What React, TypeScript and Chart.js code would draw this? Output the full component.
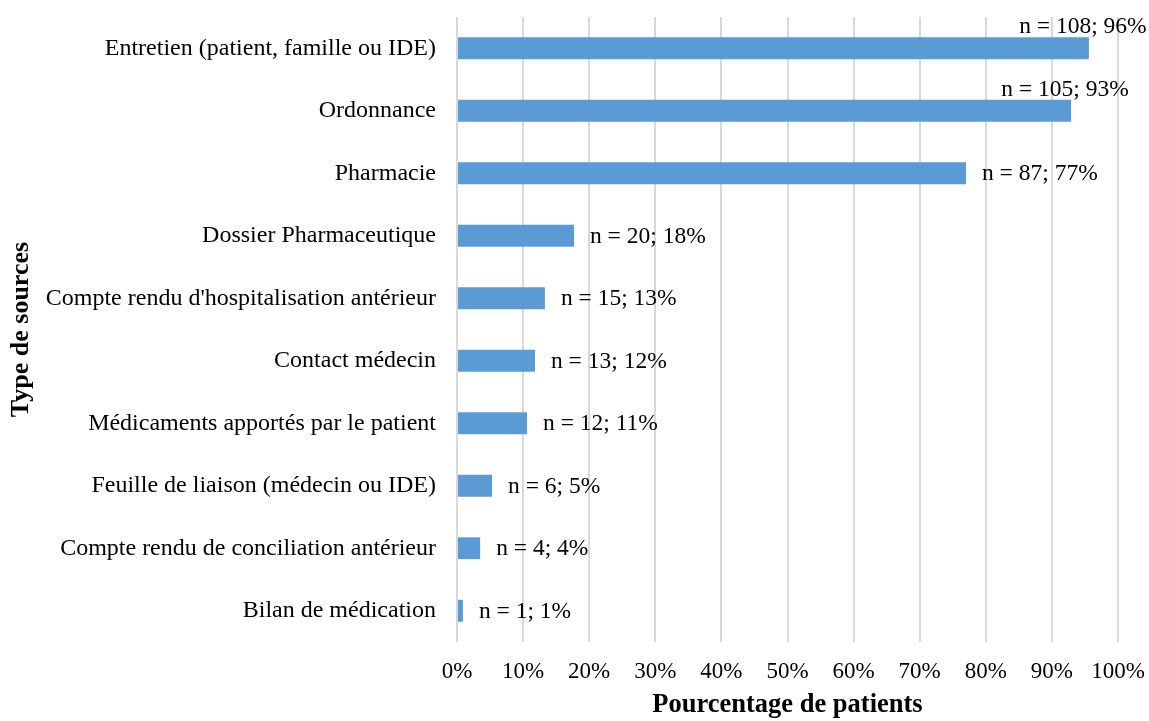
import React, { useEffect, useRef } from "react";
import { Chart, registerables } from "chart.js";

Chart.register(...registerables);

const categories = [
  "Entretien (patient, famille ou IDE)",
  "Ordonnance",
  "Pharmacie",
  "Dossier Pharmaceutique",
  "Compte rendu d'hospitalisation antérieur",
  "Contact médecin",
  "Médicaments apportés par le patient",
  "Feuille de liaison (médecin ou IDE)",
  "Compte rendu de conciliation antérieur",
  "Bilan de médication",
];
const percentages = [95.6, 92.9, 77.0, 17.7, 13.3, 11.8, 10.6, 5.3, 3.5, 0.9];
const counts = [108, 105, 87, 20, 15, 13, 12, 6, 4, 1];
const roundedPct = [96, 93, 77, 18, 13, 12, 11, 5, 4, 1];
const xTicks = [0, 10, 20, 30, 40, 50, 60, 70, 80, 90, 100];

const FONT = "'Liberation Serif', 'Times New Roman', serif";

const labelPlugin = {
  id: "barLabels",
  afterDatasetsDraw(chart: any) {
    const { ctx } = chart;
    const meta = chart.getDatasetMeta(0);
    ctx.save();
    ctx.font = `23.5px ${FONT}`;
    ctx.fillStyle = "#000";
    ctx.textBaseline = "middle";
    meta.data.forEach((bar: any, i: number) => {
      const text = `n = ${counts[i]}; ${roundedPct[i]}%`;
      if (percentages[i] > 90) {
        ctx.textAlign = "center";
        ctx.fillText(text, bar.x - 6, bar.y - 21);
      } else {
        ctx.textAlign = "left";
        ctx.fillText(text, bar.x + 16, bar.y + 1);
      }
    });
    ctx.restore();
  },
};

export default function App() {
  const ref = useRef<HTMLCanvasElement | null>(null);
  useEffect(() => {
    document.body.style.margin = "0";
    const chart = new Chart(ref.current!, {
      type: "bar",
      data: {
        labels: categories,
        datasets: [
          {
            data: percentages,
            backgroundColor: "#5B9BD5",
            barPercentage: 0.35,
            categoryPercentage: 1,
          },
        ],
      },
      plugins: [labelPlugin],
      options: {
        indexAxis: "y",
        animation: false,
        responsive: false,
        layout: { padding: { top: 17, right: 31, bottom: 0, left: 0 } },
        plugins: { legend: { display: false }, tooltip: { enabled: false } },
        scales: {
          x: {
            min: 0,
            max: 100,
            afterBuildTicks: (s: any) => {
              s.ticks = xTicks.map((v) => ({ value: v }));
            },
            afterFit: (s: any) => {
              s.height = 79;
              s.paddingLeft = 0;
              s.paddingRight = 0;
              s.paddingTop = 0;
              s.paddingBottom = 0;
            },
            grid: { color: "#d9d9d9", lineWidth: 2, drawTicks: false },
            border: { display: false },
            ticks: {
              padding: 16,
              color: "#000",
              font: { family: FONT, size: 23 },
              callback: (v: any) => `${v}%`,
            },
            title: {
              display: true,
              text: "Pourcentage de patients",
              color: "#000",
              font: { family: FONT, size: 26.5, weight: "bold" },
              padding: { top: 0, bottom: 0 },
            },
          },
          y: {
            afterFit: (s: any) => {
              s.width = 457;
              s.paddingLeft = 0;
              s.paddingRight = 0;
              s.paddingTop = 0;
              s.paddingBottom = 0;
            },
            grid: { display: false, drawTicks: false },
            border: { display: false },
            ticks: {
              padding: 21,
              color: "#000",
              font: { family: FONT, size: 24 },
            },
            title: {
              display: true,
              text: "Type de sources",
              color: "#000",
              font: { family: FONT, size: 26, weight: "bold" },
              padding: { top: 6, bottom: 0 },
            },
          },
        },
      } as any,
    });
    return () => chart.destroy();
  }, []);
  return (
    <div style={{ width: 1149, height: 721 }}>
      <canvas ref={ref} width={1149} height={721} style={{ width: 1149, height: 721 }} />
    </div>
  );
}
